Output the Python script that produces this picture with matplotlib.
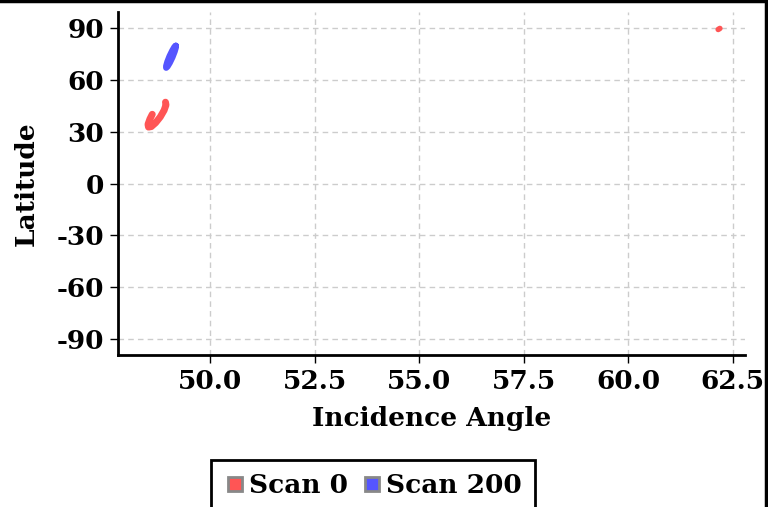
import numpy as np
import matplotlib.pyplot as plt
from matplotlib.lines import Line2D

plt.rcParams['font.family'] = ['DejaVu Serif']
plt.rcParams['font.weight'] = 'bold'
plt.rcParams['axes.unicode_minus'] = False

# Scan 0 track (incidence angle, latitude)
scan0_angle = [48.936, 48.948, 48.903, 48.812, 48.700, 48.597, 48.530, 48.518, 48.564, 48.620]
scan0_lat = [47.0, 45.4, 42.3, 38.5, 35.1, 32.9, 32.6, 34.2, 37.3, 40.0]
# isolated Scan 0 samples near the pole
scan0_pole_angle = [62.15, 62.19]
scan0_pole_lat = [89.0, 89.6]

# Scan 200 track
scan200_angle = [49.183, 49.183, 49.154, 49.101, 49.039, 48.984, 48.953, 48.953, 48.982, 49.034, 49.097, 49.152, 49.183]
scan200_lat = [79.6, 78.6, 76.2, 72.9, 69.8, 67.6, 66.9, 67.9, 70.4, 73.6, 76.7, 79.0, 79.6]

red = '#ff5555'
blue = '#5555ff'

fig = plt.figure(figsize=(7.68, 5.07), dpi=100)
ax = fig.add_axes([0.1536, 0.300, 0.8164, 0.676])

ax.plot(scan0_angle, scan0_lat, color=red, lw=5, solid_capstyle='round', solid_joinstyle='round')
ax.plot(scan0_pole_angle, scan0_pole_lat, color=red, lw=4, solid_capstyle='round')
ax.plot(scan200_angle, scan200_lat, color=blue, lw=4.5, solid_capstyle='round', solid_joinstyle='round')
ax.fill(scan200_angle, scan200_lat, color=blue)

ax.set_xlim(47.8, 62.79)
ax.set_ylim(-99, 99)
ax.set_xticks([50.0, 52.5, 55.0, 57.5, 60.0, 62.5])
ax.set_xticklabels(['50.0', '52.5', '55.0', '57.5', '60.0', '62.5'])
ax.set_yticks([90, 60, 30, 0, -30, -60, -90])
ax.set_yticklabels(['90', '60', '30', '0', '-30', '-60', '-90'])

ax.grid(True, color='#cccccc', linestyle=(0, (4, 3)), lw=1)
ax.set_axisbelow(True)
for s in ['top', 'right']:
    ax.spines[s].set_visible(False)
for s in ['left', 'bottom']:
    ax.spines[s].set_linewidth(2)
ax.tick_params(direction='out', length=6, width=1, labelsize=19, pad=4)

ax.set_xlabel('Incidence Angle', fontsize=19, fontweight='bold', labelpad=9)
ax.set_ylabel('Latitude', fontsize=19, fontweight='bold', labelpad=13)

handles = [
    Line2D([], [], linestyle='none', marker='s', markersize=10, markerfacecolor=red,
           markeredgecolor='#888888', markeredgewidth=2, label='Scan 0'),
    Line2D([], [], linestyle='none', marker='s', markersize=10, markerfacecolor=blue,
           markeredgecolor='#888888', markeredgewidth=2, label='Scan 200'),
]
leg = fig.legend(handles=handles, loc='upper center', bbox_to_anchor=(0.4857, 0.0927), ncol=2,
                 fontsize=19, frameon=True, fancybox=False, framealpha=1, handletextpad=0.15,
                 columnspacing=0.5, handlelength=0.8, borderpad=0.5, borderaxespad=0)
leg.get_frame().set_edgecolor('black')
leg.get_frame().set_linewidth(2)

# frame lines at top and right edge of the figure
fig.add_artist(Line2D([0, 0.998], [0.998, 0.998], transform=fig.transFigure, color='black', lw=2.5))
fig.add_artist(Line2D([0.998, 0.998], [0, 0.998], transform=fig.transFigure, color='black', lw=2.5))

fig.savefig('out.png', dpi=100)
